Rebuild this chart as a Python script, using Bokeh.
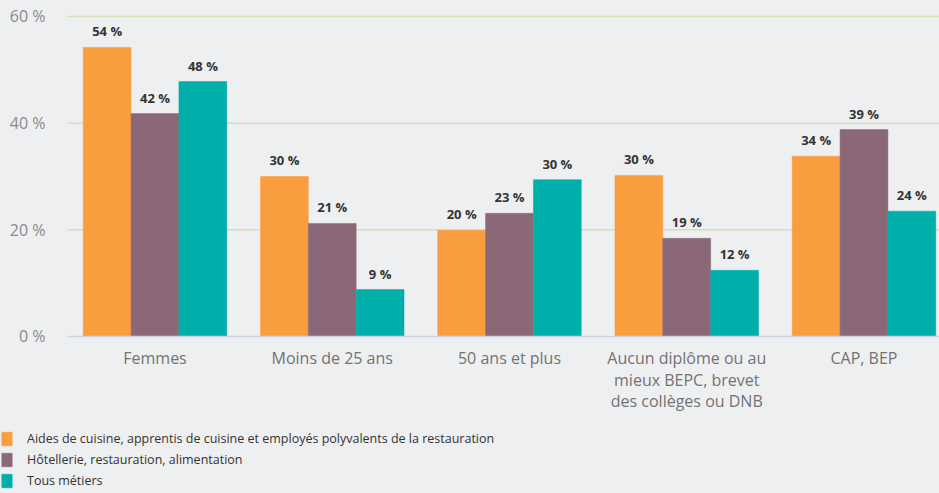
from bokeh.plotting import figure
from bokeh.models import ColumnDataSource, FixedTicker, Legend, LegendItem, Range1d, GlobalInlineStyleSheet
from bokeh.core.properties import value
from bokeh.embed import file_html
from bokeh.resources import INLINE

categories = ["Femmes", "Moins de 25 ans", "50 ans et plus",
              "Aucun diplôme ou au\nmieux BEPC, brevet\ndes collèges ou DNB", "CAP, BEP"]
series_names = ["Aides de cuisine, apprentis de cuisine et employés polyvalents de la restauration",
                "Hôtellerie, restauration, alimentation",
                "Tous métiers"]
aides = [54.2, 30.0, 19.9, 30.2, 33.8]
hotellerie = [41.8, 21.2, 23.1, 18.4, 38.8]
tous = [47.8, 8.8, 29.4, 12.4, 23.5]
labels_aides = ["54 %", "30 %", "20 %", "30 %", "34 %"]
labels_hot = ["42 %", "21 %", "23 %", "19 %", "39 %"]
labels_tous = ["48 %", "9 %", "30 %", "12 %", "24 %"]
y_ticks = [0, 20, 40, 60]
y_tick_labels = ["0 %", "20 %", "40 %", "60 %"]

colors = ["#f99d3e", "#8a6877", "#00afaa"]
BG = "#eeeff1"
FONT = "Open Sans"

# plotting area (data units): axes drawn from X_LEFT to X_RIGHT, legend under it
X_LEFT, X_RIGHT = -0.494, 4.426

p = figure(width=939, height=493, output_backend="svg", toolbar_location=None,
           x_range=Range1d(-0.8717, X_RIGHT), y_range=Range1d(-29.44, 63.0),
           min_border_left=0, min_border_right=0, min_border_top=0, min_border_bottom=0)
p.background_fill_color = BG
p.border_fill_color = BG
p.outline_line_color = None
p.stylesheets = [GlobalInlineStyleSheet(css="body{background:%s;}" % BG)]
p.xgrid.visible = False
p.ygrid.visible = False

# horizontal grid lines at the y ticks, limited to the plotting area
p.segment(x0=X_LEFT, x1=X_RIGHT, y0=y_ticks[1:], y1=y_ticks[1:],
          line_color="#d6e0b6", line_width=1.5)

xs = list(range(len(categories)))
offsets = [-0.27, 0.0, 0.27]
bar_w = 0.27
renderers = []
for vals, labs, col, off in zip([aides, hotellerie, tous],
                                [labels_aides, labels_hot, labels_tous], colors, offsets):
    src = ColumnDataSource(dict(x=[x + off for x in xs], top=vals, lab=labs))
    r = p.vbar(x="x", top="top", bottom=0, width=bar_w, source=src,
               fill_color=col, line_color=col, line_width=0.5)
    renderers.append(r)
    p.text(x="x", y="top", text="lab", source=src, text_align="center",
           text_baseline="alphabetic", y_offset=-16, text_font=value(FONT),
           text_font_style="bold", text_font_size="13px", text_color="#333333")

# axes
p.yaxis.fixed_location = X_LEFT
p.yaxis.ticker = FixedTicker(ticks=y_ticks)
p.yaxis.major_label_overrides = {t: l for t, l in zip(y_ticks, y_tick_labels)}
p.yaxis.axis_line_color = None
p.yaxis.major_tick_line_color = None
p.yaxis.minor_tick_line_color = None
p.yaxis.major_label_standoff = 16
p.yaxis.major_label_text_font = FONT
p.yaxis.major_label_text_font_size = "16px"
p.yaxis.major_label_text_color = "#8a8a8a"

p.xaxis.fixed_location = 0
p.xaxis.bounds = (X_LEFT, X_RIGHT)
p.xaxis.ticker = FixedTicker(ticks=xs)
p.xaxis.major_label_overrides = {x: c for x, c in zip(xs, categories)}
p.xaxis.axis_line_color = "#c9d5e3"
p.xaxis.axis_line_width = 1.5
p.xaxis.major_tick_line_color = None
p.xaxis.minor_tick_line_color = None
p.xaxis.major_label_standoff = 5
p.xaxis.major_label_text_font = FONT
p.xaxis.major_label_text_font_size = "16px"
p.xaxis.major_label_text_color = "#737373"
p.xaxis.major_label_text_line_height = 0.97

legend = Legend(items=[LegendItem(label=n, renderers=[r]) for n, r in zip(series_names, renderers)],
                location=(0, 4), orientation="vertical",
                glyph_width=13, glyph_height=17, label_height=17, spacing=4,
                label_standoff=14, padding=0, margin=0,
                label_text_font=FONT, label_text_font_size="12.5px", label_text_color="#333333",
                background_fill_alpha=0, border_line_color=None)
p.add_layout(legend, "center")

open("out.html", "w").write(file_html(p, INLINE))
